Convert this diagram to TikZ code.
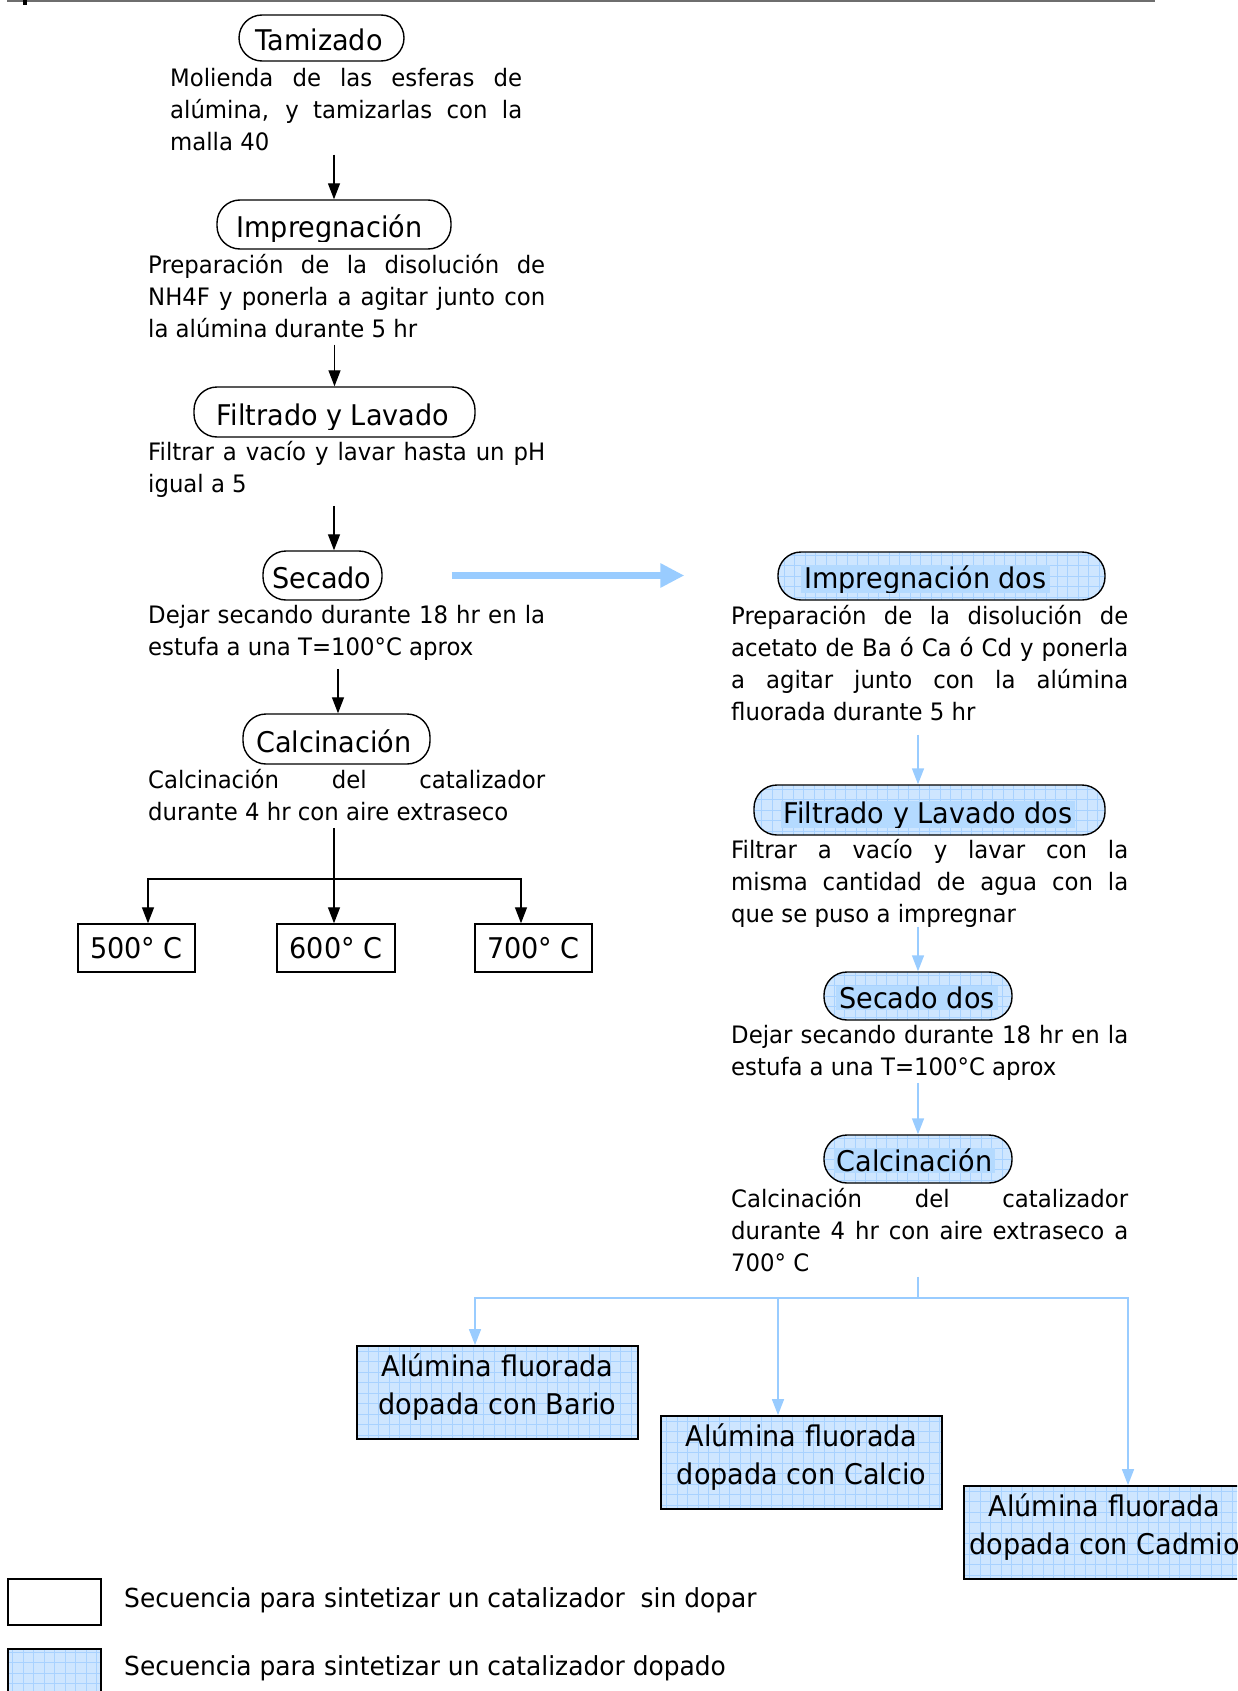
\documentclass[tikz,border=0pt]{standalone}
\usepackage{fontspec}
\setmainfont[FakeStretch=0.95]{DejaVu Sans}
\usetikzlibrary{arrows.meta,calc}
\definecolor{bfill}{RGB}{206,230,255}
\definecolor{bgrid}{RGB}{168,210,255}
\definecolor{bline}{RGB}{153,204,255}
\definecolor{bhl}{RGB}{180,218,255}
\definecolor{topgray}{RGB}{110,110,110}
\newcommand\dstrut{\rule[-7pt]{0pt}{24pt}}
\newcommand\jl[2]{\makebox[#1][s]{\dstrut#2}}
\newcommand\lastline[1]{\dstrut#1}
\newcommand\boxdepth{\rule[-17pt]{0pt}{1pt}}
\tikzset{
  oval/.style={draw=black, line width=1.4pt, rounded corners=23pt, inner sep=0pt, fill=white},
  gridfill/.style={fill=bfill, path picture={\draw[bgrid, line width=0.5pt]
      (path picture bounding box.south west) grid[step=10.5pt] (path picture bounding box.north east);}},
  blueoval/.style={oval, gridfill},
  title/.style={font=\fontsize{28.5}{34}\selectfont, inner sep=0pt, anchor=base},
  bluetitle/.style={title, fill=bhl, inner xsep=3pt, inner ysep=1pt},
  desc/.style={font=\fontsize{24}{31.8}\selectfont, inner sep=0pt, anchor=north west, align=left},
  tbox/.style={draw, line width=1.4pt, inner sep=0pt, fill=white, font=\fontsize{28.5}{34}\selectfont},
  bbox/.style={draw, line width=1.8pt, gridfill, inner sep=0pt, align=center,
      minimum width=281pt, minimum height=93pt, font=\fontsize{28.5}{37.5}\selectfont},
  arr/.style={line width=1.3pt, -{Triangle[width=12pt,length=16pt]}},
  barr/.style={bline, line width=1.5pt, -{Triangle[width=12pt,length=16pt]}},
  bigarr/.style={bline, line width=7.5pt, -{Triangle[width=23pt,length=24pt]}},
  legtext/.style={font=\fontsize{26.2}{30}\selectfont, inner sep=0pt, anchor=base west}
}
\begin{document}
\begin{tikzpicture}[x=1pt, y=-1pt]
\useasboundingbox (0,0) rectangle (1237,1691);
\clip (0,0) rectangle (1237,1691);
% top rule
\draw[topgray, line width=2pt] (7,0.8) -- (1155,0.8);
\fill[black] (23,0) rectangle (27,5);

% ---------- left column ----------
\node[oval, minimum width=165pt, minimum height=46pt] (o1) at (321.5,38) {};
\node[oval, minimum width=234pt, minimum height=49pt] (o2) at (334,224.5) {};
\node[oval, minimum width=281pt, minimum height=50pt] (o3) at (334.5,412) {};
\node[oval, minimum width=119pt, minimum height=49pt] (o4) at (322.5,575.5) {};
\node[oval, minimum width=187pt, minimum height=50pt] (o5) at (336.5,739) {};

\begin{scope}\clip (o1.north west) rectangle ($(o1.south east)+(0,-8)$);
\node[title] (t1) at ($(o1.south)+(-2.5,-11.5)$) {Tamizado};\end{scope}
\begin{scope}\clip (o2.north west) rectangle ($(o2.south east)+(0,-8)$);
\node[title] (t2) at ($(o2.south)+(-4.5,-12)$) {Impregnación};\end{scope}
\begin{scope}\clip (o3.north west) rectangle ($(o3.south east)+(0,-8)$);
\node[title] (t3) at ($(o3.south)+(-1.5,-12)$) {Filtrado y Lavado};\end{scope}
\begin{scope}\clip (o4.north west) rectangle ($(o4.south east)+(0,-8)$);
\node[title] (t4) at ($(o4.south)+(-0.5,-12)$) {Secado};\end{scope}
\begin{scope}\clip (o5.north west) rectangle ($(o5.south east)+(0,-8)$);
\node[title] (t5) at ($(o5.south)+(-2.5,-12)$) {Calcinación};\end{scope}

\node[desc] (d1) at (170,68.5) {\jl{352pt}{Molienda de las esferas de}\\\jl{352pt}{alúmina, y tamizarlas con la}\\\lastline{malla 40}};
\node[desc] (d2) at (148,254.5) {\jl{397pt}{Preparación de la disolución de}\\\jl{397pt}{NH4F y ponerla a agitar junto con}\\\lastline{la alúmina durante 5 hr}};
\node[desc] (d3) at (148,441.5) {\jl{397pt}{Filtrar a vacío y lavar hasta un pH}\\\lastline{igual a 5}};
\node[desc] (d4) at (148,605.5) {\jl{397pt}{Dejar secando durante 18 hr en la}\\\lastline{estufa a una T=100°C aprox}};
\node[desc] (d5) at (148,769.5) {\jl{397pt}{Calcinación del catalizador}\\\lastline{durante 4 hr con aire extraseco}};

\draw[arr] ($(d1.south -| o2.north)+(0,-3)$) -- (o2.north);
\draw[arr] (d2.south -| o3.north) -- (o3.north);
\draw[arr] ($(d3.south -| o2.north)+(0,6)$) -- (o4.north -| o2.north);
\draw[arr] ($(d4.south -| o5.north)+(1.5,6)$) -- ($(o5.north)+(1.5,0)$);

\node[tbox, minimum width=117pt, minimum height=48pt] (b500) at (136.5,948) {500° C};
\node[tbox, minimum width=118pt, minimum height=48pt] (b600) at (336,948) {600° C};
\node[tbox, minimum width=117pt, minimum height=48pt] (b700) at (533.5,948) {700° C};
\coordinate (j) at (334,879);
\draw[line width=1.3pt] ($(d5.south -| j)+(0,0)$) -- (j);
\draw[arr] (j) -| ($(b500.north)+(11.5,0)$);
\draw[arr] (j) -- (j |- b600.north);
\draw[arr] (j) -| ($(b700.north)+(-12.5,0)$);

% ---------- right column ----------
\node[blueoval, minimum width=327pt, minimum height=48pt] (r1) at (941.5,576) {};
\node[blueoval, minimum width=351pt, minimum height=50pt] (r2) at (929.5,810) {};
\node[blueoval, minimum width=188pt, minimum height=48pt] (r3) at (918,996) {};
\node[blueoval, minimum width=188pt, minimum height=48pt] (r4) at (918,1159) {};

\begin{scope}\clip (r1.north west) rectangle ($(r1.south east)+(0,-8)$);
\node[bluetitle] (rt1) at ($(r1.south)+(-16,-12)$) {Impregnación dos};\end{scope}
\begin{scope}\clip (r2.north west) rectangle ($(r2.south east)+(0,-8)$);
\node[bluetitle] (rt2) at ($(r2.south)+(-1.5,-12)$) {Filtrado y Lavado dos};\end{scope}
\begin{scope}\clip (r3.north west) rectangle ($(r3.south east)+(0,-8)$);
\node[bluetitle] (rt3) at ($(r3.south)+(-1,-12)$) {Secado dos};\end{scope}
\begin{scope}\clip (r4.north west) rectangle ($(r4.south east)+(0,-8)$);
\node[bluetitle] (rt4) at ($(r4.south)+(-3.5,-12)$) {Calcinación};\end{scope}

\node[desc] (rd1) at (731,605.5) {\jl{397pt}{Preparación de la disolución de}\\\jl{397pt}{acetato de Ba ó Ca ó Cd y ponerla}\\\jl{397pt}{a agitar junto con la alúmina}\\\lastline{fluorada durante 5 hr}};
\node[desc] (rd2) at (731,839.5) {\jl{397pt}{Filtrar a vacío y lavar con la}\\\jl{397pt}{misma cantidad de agua con la}\\\lastline{que se puso a impregnar}};
\node[desc] (rd3) at (731,1025.5) {\jl{397pt}{Dejar secando durante 18 hr en la}\\\lastline{estufa a una T=100°C aprox}};
\node[desc] (rd4) at (731,1188.5) {\jl{397pt}{Calcinación del catalizador}\\\jl{397pt}{durante 4 hr con aire extraseco a}\\\lastline{700° C}};

\draw[bigarr, shorten <=69pt, shorten >=93pt] (o4.east) -- (o4.east -| r1.west);

\draw[barr] ($(rd1.south -| r3.north)+(0,7)$) -- (r2.north -| r3.north);
\draw[barr] ($(rd2.south -| r3.north)+(0,-3)$) -- (r3.north);
\draw[barr] ($(rd3.south -| r3.north)+(0,0)$) -- (r4.north);

\node[bbox] (bario) at (497.5,1392.5) {Alúmina fluorada\\dopada con Bario\boxdepth};
\node[bbox] (calcio) at (801.5,1462.5) {Alúmina fluorada\\dopada con Calcio\boxdepth};
\node[bbox] (cadmio) at (1104.5,1532.5) {Alúmina fluorada\\dopada con Cadmio\boxdepth};
\coordinate (bj) at (918,1298);
\draw[bline, line width=1.5pt] ($(rd4.south -| bj)+(0,-2)$) -- (bj);
\draw[barr] (bj) -| ($(bario.north)+(-22.5,0)$);
\draw[barr] (bj) -| ($(calcio.north)+(-23.5,0)$);
\draw[barr] (bj) -| ($(cadmio.north)+(23.5,0)$);

% ---------- legend ----------
\node[draw, line width=1.4pt, fill=white, minimum width=93pt, minimum height=46pt, inner sep=0pt] (lg1) at (54.5,1602) {};
\node[draw, line width=1.4pt, gridfill, minimum width=93pt, minimum height=48pt, inner sep=0pt] (lg2) at (54.5,1673) {};
\node[legtext] (lt1) at (124,1607) {Secuencia para sintetizar un catalizador\ \ sin dopar};
\node[legtext] (lt2) at (124,1675) {Secuencia para sintetizar un catalizador dopado};
\end{tikzpicture}
\end{document}
